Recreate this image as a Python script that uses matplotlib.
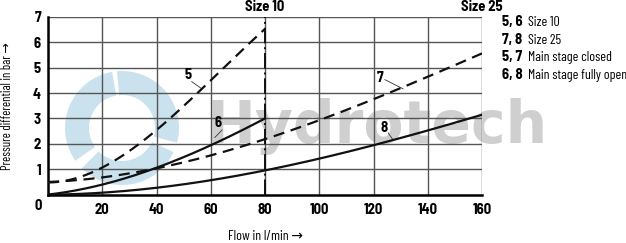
import numpy as np
import matplotlib
matplotlib.use("Agg")
import matplotlib.pyplot as plt
from matplotlib.patches import Wedge
from matplotlib.transforms import IdentityTransform

plt.rcParams['font.family'] = ['Barlow Semi Condensed', 'DejaVu Sans']
COND = ['Barlow Condensed', 'DejaVu Sans']

# data
x5 = [0, 10, 20, 30, 40, 50, 60, 70, 80]
y5 = [0.5, 0.6, 1.05, 1.75, 2.55, 3.5, 4.5, 5.5, 6.55]
x6 = [0, 20, 40, 60, 80]
y6 = [0.0, 0.4, 1.05, 1.95, 3.0]
x7 = [0, 20, 40, 60, 80, 100, 120, 140, 160]
y7 = [0.47, 0.72, 1.05, 1.55, 2.1, 2.95, 3.8, 4.65, 5.55]
x8 = [0, 20, 40, 60, 80, 100, 120, 140, 160]
y8 = [0.0, 0.07, 0.27, 0.57, 0.95, 1.42, 1.95, 2.52, 3.15]
xticks = [20, 40, 60, 80, 100, 120, 140, 160]
yticks = [1, 2, 3, 4, 5, 6, 7]
legend_keys = ["5, 6", "7, 8", "5, 7", "6, 8"]
legend_texts = ["Size 10", "Size 25", "Main stage closed", "Main stage fully open"]


def smooth(x, y, n=200):
    xs = np.linspace(x[0], x[-1], n)
    c = np.polyfit(x, y, 3)
    return xs, np.polyval(c, xs)


W, H = 626, 243
fig = plt.figure(figsize=(W / 100, H / 100), dpi=100)
ax = fig.add_axes([48 / W, 1 - 194.6 / H, 434 / W, 177.6 / H])
ax.set_xlim(0, 160)
ax.set_ylim(0, 7)

# watermark logo (swirl) and text
cx, cy = 122, H - 128
for t1, t2 in [(100, 215), (225, 335), (345, 455)]:
    w = Wedge((cx, cy), 57, t1, t2, width=24, transform=IdentityTransform(),
              facecolor='#b4d6e8', edgecolor='none', alpha=0.7, zorder=0.6)
    ax.add_patch(w)
ax.text(58.6, 2.04, "Hydrotech", fontsize=42, color='#cacaca', alpha=0.9,
        family='DejaVu Sans', fontweight='bold',
        zorder=0.7, va='baseline', ha='left')

for xv in xticks:
    ax.axvline(xv, color='#555555', lw=1.0, zorder=1)
for yv in yticks:
    ax.axhline(yv, color='#555555', lw=1.0, zorder=1)

for s in ['top', 'right']:
    ax.spines[s].set_visible(False)
ax.spines['left'].set_linewidth(1.8)
ax.spines['bottom'].set_linewidth(1.8)

ax.plot(*smooth(x5, y5), color='#111111', lw=1.6, ls=(0, (5, 3)), zorder=3)
ax.plot(*smooth(x6, y6), color='#111111', lw=1.6, zorder=3)
ax.plot(*smooth(x7, y7), color='#111111', lw=1.6, ls=(0, (5, 3)), zorder=3)
ax.plot(*smooth(x8, y8), color='#111111', lw=1.6, zorder=3)

ax.plot([80, 80], [0, 7], color='#111111', lw=1.4, ls=(0, (8, 2, 1, 2)), zorder=3)

ax.set_xticks(xticks)
ax.set_yticks(yticks)
ax.tick_params(length=0, labelsize=10.5)
ax.tick_params(axis='x', pad=6)
ax.tick_params(axis='y', pad=5)
for lab in ax.get_xticklabels() + ax.get_yticklabels():
    lab.set_fontweight('bold')
fig.text(38 / W, 1 - 206 / H, "0", fontsize=10.5, fontweight='bold', ha='center', va='center')

# curve labels
lbl = dict(fontsize=10.5, fontweight='bold', ha='center', va='center', zorder=4)
ax.text(51.5, 4.7, "5", **lbl)
ax.plot([53, 56.7], [4.45, 4.17], color='#333333', lw=0.6)
ax.text(62.7, 2.83, "6", **lbl)
ax.plot([64.2, 61.5], [2.55, 2.25], color='#333333', lw=0.6)
ax.text(122.4, 4.6, "7", **lbl)
ax.plot([124.2, 130.9], [4.53, 4.17], color='#333333', lw=0.6)
ax.text(123.9, 2.63, "8", **lbl)
ax.plot([125.4, 127.2], [2.43, 2.16], color='#333333', lw=0.6)

fig.text(265 / W, 1 - 7 / H, "Size 10", fontsize=10.5, fontweight='bold', ha='center', va='center')
fig.text(482 / W, 1 - 7 / H, "Size 25", fontsize=10.5, fontweight='bold', ha='center', va='center')

fig.text(265 / W, 1 - 236 / H, "Flow in l/min \u2192", fontsize=10, ha='center', va='center',
         family=COND)
fig.text(8 / W, 1 - 106 / H, "Pressure differential in bar \u2192", fontsize=9, ha='center',
         va='center', rotation=90, family=COND)

ys = [22, 40, 57, 75]
for k, t, yp in zip(legend_keys, legend_texts, ys):
    fig.text(502 / W, 1 - yp / H, k, fontsize=10.5, fontweight='bold', va='center', ha='left')
    fig.text(528 / W, 1 - yp / H, t, fontsize=10, va='center', ha='left', family=COND)

fig.savefig("out.png", dpi=100)
